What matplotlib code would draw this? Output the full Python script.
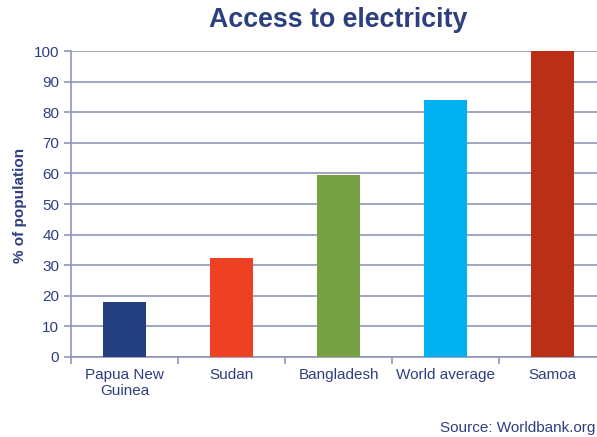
import matplotlib.pyplot as plt
import numpy as np

# Data
countries = ["Papua New\nGuinea", "Sudan", "Bangladesh", "World average", "Samoa"]
access = [18, 32.5, 59.5, 84, 100]
colors = ["#243F7F", "#EE4123", "#77A044", "#00B0EF", "#BA2F15"]

TEXT = "#2E3F80"
GRID = "#9097B8"

plt.rcParams['font.family'] = ['Liberation Sans', 'DejaVu Sans']

fig = plt.figure(figsize=(5.97, 4.37), dpi=100)
ax = fig.add_axes([71 / 597, 1 - 357 / 437, 535 / 597, 306 / 437])

x = np.arange(len(countries))
ax.bar(x, access, width=0.4, color=colors, zorder=3)

ax.set_xlim(-0.5, len(countries) - 0.5)
ax.set_ylim(0, 100)
ax.set_yticks(range(0, 101, 10))
ax.yaxis.grid(True, color=GRID, linewidth=1.2, zorder=0)

ax.set_xticks(x)
ax.set_xticklabels(countries, color=TEXT, fontsize=11)
ax.set_xticks(np.arange(-0.5, len(countries), 1), minor=True)
ax.tick_params(axis="x", which="major", length=0, pad=8)
ax.tick_params(axis="x", which="minor", length=5, color=GRID, width=1.2)
ax.tick_params(axis="y", length=5, color=GRID, width=1.2, labelcolor=TEXT, labelsize=11)

for s in ["top", "right"]:
    ax.spines[s].set_visible(False)
for s in ["left", "bottom"]:
    ax.spines[s].set_color(GRID)
    ax.spines[s].set_linewidth(1.2)

fig.text(20 / 597, 1 - 205 / 437, "% of population", rotation=90, color=TEXT,
         fontsize=11, fontweight="bold", ha="center", va="center")
fig.text(338 / 597, 1 - 20 / 437, "Access to electricity", color=TEXT,
         fontsize=19.3, fontweight="bold", ha="center", va="center")
fig.text(595 / 597, 1 - 428 / 437, "Source: Worldbank.org", color=TEXT,
         fontsize=11, ha="right", va="center")

plt.savefig("out.png", dpi=100)
plt.close()
